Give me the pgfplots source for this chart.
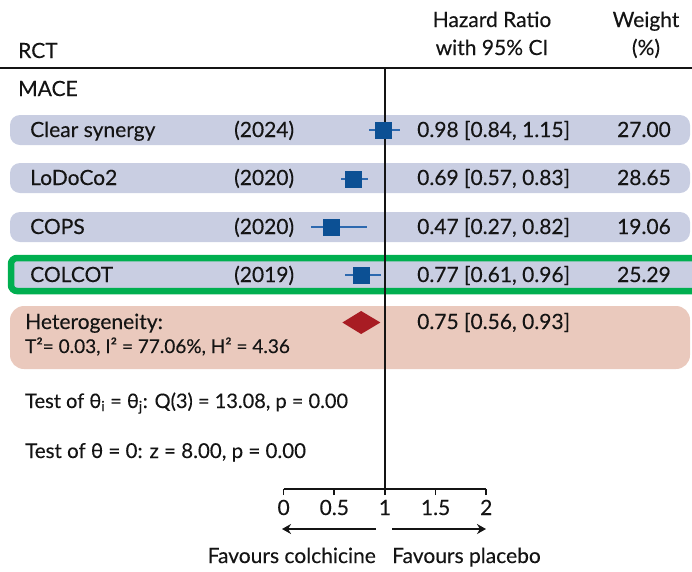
\documentclass[border=0pt]{standalone}
\usepackage{fontspec}
\setmainfont{Lato}[FakeBold=0.25]
\usepackage{pgfplots}
\pgfplotsset{compat=1.18}
\usetikzlibrary{arrows.meta}
\definecolor{bandblue}{RGB}{201,206,226}
\definecolor{bandpink}{RGB}{234,201,189}
\definecolor{sqblue}{RGB}{12,80,148}
\definecolor{ciblue}{RGB}{45,105,175}
\definecolor{dred}{RGB}{168,28,35}
\definecolor{boxgreen}{RGB}{0,175,80}
\definecolor{txt}{RGB}{20,20,20}
\begin{document}
\begin{tikzpicture}[x=1pt,y=1pt,font=\fontsize{21}{25}\selectfont,
  every node/.style={text=txt, inner sep=0pt}]
\path[use as bounding box] (0,0) rectangle (692,-571);
% bands
\fill[bandblue, rounded corners=10pt] (10,-115) rectangle (690,-145);
\fill[bandblue, rounded corners=10pt] (10,-163) rectangle (690,-193);
\fill[bandblue, rounded corners=10pt] (10,-212) rectangle (690,-242);
\fill[bandblue] (10,-260) rectangle (700,-290);
\fill[bandpink, rounded corners=14pt] (10,-306) rectangle (690,-369);
\draw[boxgreen, line width=6.5pt, rounded corners=6pt] (710,-258) -- (11,-258) -- (11,-291) -- (710,-291);
\draw[txt, line width=2pt] (0,-68) -- (692,-68);

\begin{axis}[
  at={(280,-489)}, anchor=south west,
  scale only axis, width=202.6pt, height=421pt,
  xmin=0, xmax=2, ymin=-489, ymax=-68,
  clip=false,
  axis y line=none,
  axis x line*=bottom,
  x axis line style={txt, line width=1.8pt},
  xtick={0,0.5,1,1.5,2},
  xticklabels={0,0.5,1,1.5,2},
  tick align=outside,
  major tick length=6pt,
  x tick style={txt, line width=1.6pt},
  xticklabel style={anchor=base, yshift=-20pt, font=\fontsize{21}{25}\selectfont},
]
\draw[txt, line width=1.6pt] (axis cs:1,-68) -- (axis cs:1,-489);
\addplot[only marks, mark=square*, mark size=8pt, color=sqblue,
  mark options={fill=sqblue, draw=sqblue},
  error bars/.cd, x dir=both, x explicit,
  error bar style={line width=1.3pt, color=ciblue}, error mark=none]
  coordinates {
    (0.98,-130) += (0.17,0) -= (0.14,0)
    (0.69,-179) += (0.14,0) -= (0.12,0)
    (0.47,-227) += (0.35,0) -= (0.20,0)
    (0.77,-275) += (0.19,0) -= (0.16,0)
  };
\addplot[fill=dred, draw=none] coordinates {
  (0.58,-322.5) (0.765,-311) (0.955,-322.5) (0.765,-334)} -- cycle;
\end{axis}

% header
\node[anchor=base west] at (18,-58) {RCT};
\node[anchor=base] at (492,-27) {Hazard Ratio};
\node[anchor=base] at (492,-55) {with 95\% CI};
\node[anchor=base] at (646,-27) {Weight};
\node[anchor=base] at (646,-55) {(\%)};
\node[anchor=base west] at (18,-96) {MACE};
% rows
\node[anchor=base west] at (30,-137) {Clear synergy};
\node[anchor=base west] at (234,-137) {(2024)};
\node[anchor=base west] at (417,-137) {0.98 [0.84, 1.15]};
\node[anchor=base east] at (671,-137) {27.00};
\node[anchor=base west] at (30,-185) {LoDoCo2};
\node[anchor=base west] at (234,-185) {(2020)};
\node[anchor=base west] at (417,-185) {0.69 [0.57, 0.83]};
\node[anchor=base east] at (671,-185) {28.65};
\node[anchor=base west] at (30,-234) {COPS};
\node[anchor=base west] at (234,-234) {(2020)};
\node[anchor=base west] at (417,-234) {0.47 [0.27, 0.82]};
\node[anchor=base east] at (671,-234) {19.06};
\node[anchor=base west] at (30,-282) {COLCOT};
\node[anchor=base west] at (234,-282) {(2019)};
\node[anchor=base west] at (417,-282) {0.77 [0.61, 0.96]};
\node[anchor=base east] at (671,-282) {25.29};
% heterogeneity
\node[anchor=base west] at (25,-329) {Heterogeneity:};
\node[anchor=base west, font=\fontsize{19}{23}\selectfont] at (25,-353) {T²= 0.03, I² = 77.06\%, H² = 4.36};
\node[anchor=base west] at (417,-329) {0.75 [0.56, 0.93]};
\node[anchor=base west, font=\fontsize{20}{24}\selectfont] at (25,-408) {Test of θ\textsubscript{i} = θ\textsubscript{j}: Q(3) = 13.08, p = 0.00};
\node[anchor=base west, font=\fontsize{20.5}{24}\selectfont] at (25,-458) {Test of θ = 0: z = 8.00, p = 0.00};
% arrows
\draw[txt, line width=2.4pt, -{Stealth[length=9pt, width=10pt]}] (376,-529) -- (282,-529);
\draw[txt, line width=2.4pt, -{Stealth[length=9pt, width=10pt]}] (392,-529) -- (486,-529);
\node[anchor=base east] at (376,-563) {Favours colchicine};
\node[anchor=base west] at (392,-563) {Favours placebo};
\end{tikzpicture}
\end{document}
